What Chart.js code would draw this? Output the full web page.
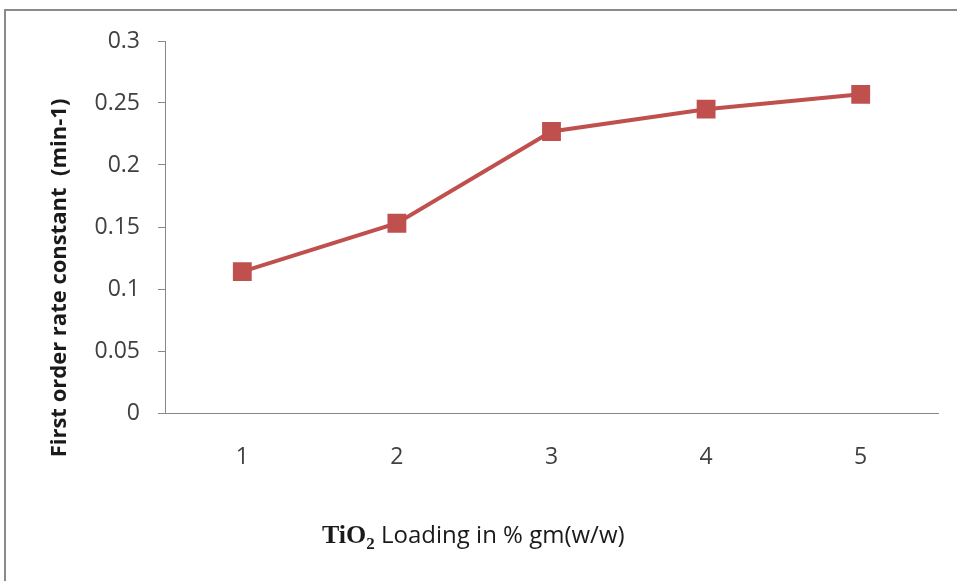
<!DOCTYPE html>
<html>
<head>
<meta charset="utf-8">
<script src="https://cdn.jsdelivr.net/npm/chart.js@4"></script>
<style>
  html, body { margin: 0; padding: 0; background: #fff; overflow: hidden; }
  #frame {
    position: absolute; left: 4px; top: 9px;
    width: 1100px; height: 800px;
    border: 2px solid #8a8a8a;
  }
  #wrap { position: absolute; left: 0; top: 0; width: 957px; height: 581px; }
</style>
</head>
<body>
<div id="frame"></div>
<div id="wrap"><canvas id="rateChart" width="957" height="581"></canvas></div>
<script>
const loadings = ["1", "2", "3", "4", "5"];
const rateConstants = [0.114, 0.153, 0.227, 0.245, 0.257];
const yTicks = [0, 0.05, 0.1, 0.15, 0.2, 0.25, 0.3];
// axis titles; x title pieces: formula, subscript, rest of the label
const yTitle = "First order rate constant  (min-1)";
const xTitleParts = ["TiO", "2", " Loading in % gm(w/w)"];

const lineColor = "#C0504D";
const axisColor = "#888888";

// axis titles are not centred on the plot in the original, so place them by hand
const titlesPlugin = {
  id: "axisTitles",
  afterDraw(chart) {
    const c = chart.ctx;
    const area = chart.chartArea;
    c.save();
    c.fillStyle = "#1a1a1a";

    // y title, rotated
    c.save();
    c.translate(60, area.bottom - 135);
    c.rotate(-Math.PI / 2);
    c.textAlign = "center";
    c.textBaseline = "middle";
    c.font = "bold 22px 'Open Sans'";
    c.fillText(yTitle, 0, 0);
    c.restore();

    // x title with subscript
    let x = area.left + 157;
    const y = 543;
    c.textBaseline = "alphabetic";
    c.textAlign = "left";
    c.font = "bold 26px 'Liberation Serif'";
    c.fillText(xTitleParts[0], x, y);
    x += c.measureText(xTitleParts[0]).width;
    c.font = "bold 17px 'Liberation Serif'";
    c.fillText(xTitleParts[1], x, y + 6);
    x += c.measureText(xTitleParts[1]).width;
    c.font = "24px 'Open Sans'";
    c.fillText(xTitleParts[2], x, y);
    c.restore();
  },
};

const ctx = document.getElementById("rateChart").getContext("2d");
const rateChart = new Chart(ctx, {
  type: "line",
  data: {
    labels: loadings,
    datasets: [
      {
        label: "First order rate constant",
        data: rateConstants,
        borderColor: lineColor,
        backgroundColor: lineColor,
        borderWidth: 4,
        pointStyle: "rect",
        pointRadius: 10.5,
        pointHoverRadius: 10.5,
        tension: 0,
      },
    ],
  },
  plugins: [titlesPlugin],
  options: {
    responsive: false,
    animation: false,
    layout: { padding: { left: 44, top: 41, right: 19, bottom: 0 } },
    plugins: {
      legend: { display: false },
      tooltip: { enabled: false },
    },
    scales: {
      x: {
        type: "category",
        offset: true,
        border: { display: true, color: axisColor, width: 1 },
        grid: { display: true, drawOnChartArea: false, drawTicks: false, offset: true },
        ticks: { padding: 31, color: "#404040", font: { family: "Open Sans", size: 23 } },
        title: { display: false },
        afterFit: (scale) => { scale.height = 168; },
      },
      y: {
        min: 0,
        max: 0.3,
        border: { display: true, color: axisColor, width: 1 },
        grid: { display: true, drawOnChartArea: false, drawTicks: true, tickLength: 7, color: axisColor },
        afterBuildTicks: (scale) => { scale.ticks = yTicks.map((v) => ({ value: v })); },
        ticks: {
          padding: 18,
          color: "#404040",
          font: { family: "Open Sans", size: 23 },
          callback: (v) => String(v),
        },
        title: { display: false },
        afterFit: (scale) => { scale.width = 121; },
      },
    },
  },
});
</script>
</body>
</html>
